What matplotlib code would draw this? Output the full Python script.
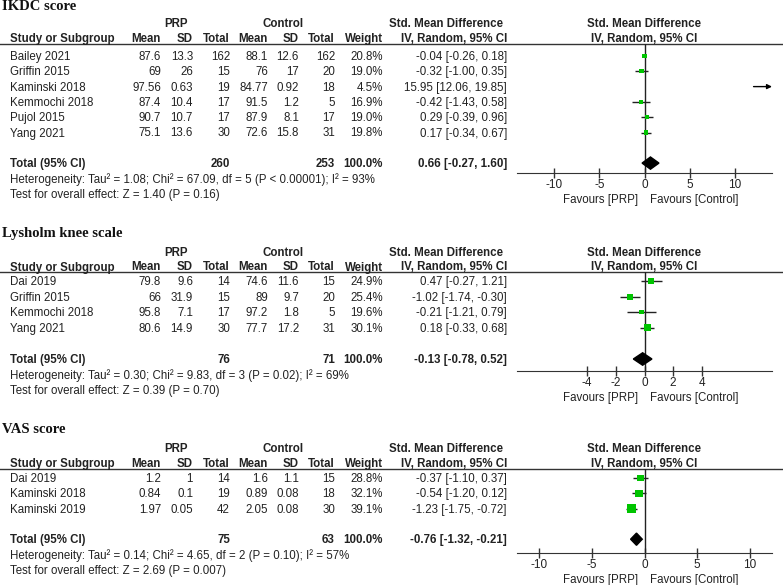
import matplotlib.pyplot as plt
from matplotlib.patches import Polygon

plt.rcParams['font.family'] = ['Liberation Sans', 'DejaVu Sans']

W, H = 783, 585
FS = 8.3
GREEN = '#00c400'

# ---- IKDC score ----
ikdc_studies = ['Bailey 2021', 'Griffin 2015', 'Kaminski 2018', 'Kemmochi 2018', 'Pujol 2015', 'Yang 2021']
ikdc_prp_mean = ['87.6', '69', '97.56', '87.4', '90.7', '75.1']
ikdc_prp_sd = ['13.3', '26', '0.63', '10.4', '10.7', '13.6']
ikdc_prp_n = [162, 15, 19, 17, 17, 30]
ikdc_ctl_mean = ['88.1', '76', '84.77', '91.5', '87.9', '72.6']
ikdc_ctl_sd = ['12.6', '17', '0.92', '1.2', '8.1', '15.8']
ikdc_ctl_n = [162, 20, 18, 5, 17, 31]
ikdc_weight = [20.8, 19.0, 4.5, 16.9, 19.0, 19.8]
ikdc_smd = [-0.04, -0.32, 15.95, -0.42, 0.29, 0.17]
ikdc_lo = [-0.26, -1.00, 12.06, -1.43, -0.39, -0.34]
ikdc_hi = [0.18, 0.35, 19.85, 0.58, 0.96, 0.67]
ikdc_total = (0.66, -0.27, 1.60)
ikdc_het = 'Heterogeneity: Tau² = 1.08; Chi² = 67.09, df = 5 (P < 0.00001); I² = 93%'
ikdc_test = 'Test for overall effect: Z = 1.40 (P = 0.16)'
ikdc_ticks = [-10, -5, 0, 5, 10]

# ---- Lysholm knee scale ----
lys_studies = ['Dai 2019', 'Griffin 2015', 'Kemmochi 2018', 'Yang 2021']
lys_prp_mean = ['79.8', '66', '95.8', '80.6']
lys_prp_sd = ['9.6', '31.9', '7.1', '14.9']
lys_prp_n = [14, 15, 17, 30]
lys_ctl_mean = ['74.6', '89', '97.2', '77.7']
lys_ctl_sd = ['11.6', '9.7', '1.8', '17.2']
lys_ctl_n = [15, 20, 5, 31]
lys_weight = [24.9, 25.4, 19.6, 30.1]
lys_smd = [0.47, -1.02, -0.21, 0.18]
lys_lo = [-0.27, -1.74, -1.21, -0.33]
lys_hi = [1.21, -0.30, 0.79, 0.68]
lys_total = (-0.13, -0.78, 0.52)
lys_het = 'Heterogeneity: Tau² = 0.30; Chi² = 9.83, df = 3 (P = 0.02); I² = 69%'
lys_test = 'Test for overall effect: Z = 0.39 (P = 0.70)'
lys_ticks = [-4, -2, 0, 2, 4]

# ---- VAS score ----
vas_studies = ['Dai 2019', 'Kaminski 2018', 'Kaminski 2019']
vas_prp_mean = ['1.2', '0.84', '1.97']
vas_prp_sd = ['1', '0.1', '0.05']
vas_prp_n = [14, 19, 42]
vas_ctl_mean = ['1.6', '0.89', '2.05']
vas_ctl_sd = ['1.1', '0.08', '0.08']
vas_ctl_n = [15, 18, 30]
vas_weight = [28.8, 32.1, 39.1]
vas_smd = [-0.37, -0.54, -1.23]
vas_lo = [-1.10, -1.20, -1.75]
vas_hi = [0.37, 0.12, -0.72]
vas_total = (-0.76, -1.32, -0.21)
vas_het = 'Heterogeneity: Tau² = 0.14; Chi² = 4.65, df = 2 (P = 0.10); I² = 57%'
vas_test = 'Test for overall effect: Z = 2.69 (P = 0.007)'
vas_ticks = [-10, -5, 0, 5, 10]

panels = [
    dict(title='IKDC score', studies=ikdc_studies,
         cols=[ikdc_prp_mean, ikdc_prp_sd, ikdc_prp_n, ikdc_ctl_mean, ikdc_ctl_sd, ikdc_ctl_n],
         weight=ikdc_weight, smd=ikdc_smd, lo=ikdc_lo, hi=ikdc_hi, total=ikdc_total,
         het=ikdc_het, test=ikdc_test, ticks=ikdc_ticks,
         title_y=9.5, line_y=43.5, row0=56, step=15.3, axis_y=173, xmax=14.1),
    dict(title='Lysholm knee scale', studies=lys_studies,
         cols=[lys_prp_mean, lys_prp_sd, lys_prp_n, lys_ctl_mean, lys_ctl_sd, lys_ctl_n],
         weight=lys_weight, smd=lys_smd, lo=lys_lo, hi=lys_hi, total=lys_total,
         het=lys_het, test=lys_test, ticks=lys_ticks,
         title_y=237, line_y=272, row0=281, step=15.6, axis_y=371, xmax=8.9),
    dict(title='VAS score', studies=vas_studies,
         cols=[vas_prp_mean, vas_prp_sd, vas_prp_n, vas_ctl_mean, vas_ctl_sd, vas_ctl_n],
         weight=vas_weight, smd=vas_smd, lo=vas_lo, hi=vas_hi, total=vas_total,
         het=vas_het, test=vas_test, ticks=vas_ticks,
         title_y=433, line_y=468.5, row0=478, step=15.3, axis_y=553, xmax=12.1),
]

# right edges of the numeric columns (pixels)
col_x = [161, 193, 230, 268, 299, 335]
weight_x = 383
ci_x = 507
plot_l, plot_r = 517, 772
plot_c = 644
BL = 4  # baseline offset below a row's centre (px)


def ci_text(est, lo, hi):
    return f'{est:.2f} [{lo:.2f}, {hi:.2f}]'


fig = plt.figure(figsize=(W / 100, H / 100), dpi=100)
tx = fig.add_axes([0, 0, 1, 1])
tx.set_xlim(0, W)
tx.set_ylim(H, 0)
tx.axis('off')

for p in panels:
    tx.text(2, p['title_y'], p['title'], family='Liberation Serif', weight='bold',
            fontsize=10.5, va='baseline', color='#111111')

    # column headers
    h1 = p['line_y'] - 16.5
    h2 = p['line_y'] - 1.5
    bold = dict(fontsize=FS, weight='bold', va='baseline', color='#222222')
    tx.text(176, h1, 'PRP', ha='center', **bold)
    tx.text(283, h1, 'Control', ha='center', **bold)
    tx.text(446, h1, 'Std. Mean Difference', ha='center', **bold)
    tx.text(plot_c, h1, 'Std. Mean Difference', ha='center', **bold)
    tx.text(10, h2, 'Study or Subgroup', ha='left', **bold)
    for x, lab in zip(col_x, ['Mean', 'SD', 'Total', 'Mean', 'SD', 'Total']):
        tx.text(x, h2, lab, ha='right', **bold)
    tx.text(weight_x, h2, 'Weight', ha='right', **bold)
    tx.text(ci_x, h2, 'IV, Random, 95% CI', ha='right', **bold)
    tx.text(plot_c, h2, 'IV, Random, 95% CI', ha='center', **bold)
    tx.plot([0, W], [p['line_y'], p['line_y']], color='#333333', lw=1)

    # study rows
    norm = dict(fontsize=FS, va='baseline', color='#222222')
    n = len(p['studies'])
    for i, name in enumerate(p['studies']):
        y = p['row0'] + i * p['step'] + BL
        tx.text(10, y, name, ha='left', **norm)
        for x, col in zip(col_x, p['cols']):
            tx.text(x, y, str(col[i]), ha='right', **norm)
        tx.text(weight_x, y, f"{p['weight'][i]:.1f}%", ha='right', **norm)
        tx.text(ci_x, y, ci_text(p['smd'][i], p['lo'][i], p['hi'][i]), ha='right', **norm)

    # total row
    yt = p['row0'] + (n + 1) * p['step'] + BL
    tx.text(10, yt, 'Total (95% CI)', ha='left', **bold)
    tx.text(col_x[2], yt, str(sum(p['cols'][2])), ha='right', **bold)
    tx.text(col_x[5], yt, str(sum(p['cols'][5])), ha='right', **bold)
    tx.text(weight_x, yt, '100.0%', ha='right', **bold)
    tx.text(ci_x, yt, ci_text(*p['total']), ha='right', **bold)
    tx.text(10, yt + 15.5, p['het'], ha='left', **norm)
    tx.text(10, yt + 31, p['test'], ha='left', **norm)

    # favours labels
    fy = p['axis_y'] + 25.5 + BL
    tx.text(plot_c - 6, fy, 'Favours [PRP]', ha='right', **norm)
    tx.text(plot_c + 6, fy, 'Favours [Control]', ha='left', **norm)

    # forest plot axes
    ax = fig.add_axes([plot_l / W, 1 - p['axis_y'] / H,
                       (plot_r - plot_l) / W, (p['axis_y'] - p['line_y']) / H])
    ax.patch.set_alpha(0)
    ax.set_xlim(-p['xmax'], p['xmax'])
    ytop = -(p['row0'] - p['line_y']) / p['step']
    ybot = (p['axis_y'] - p['row0']) / p['step']
    ax.set_ylim(ybot, ytop)
    for s in ['top', 'left', 'right']:
        ax.spines[s].set_visible(False)
    ax.spines['bottom'].set_color('#333333')
    ax.set_yticks([])
    ax.set_xticks(p['ticks'])
    ax.set_xticklabels([str(t) for t in p['ticks']], fontsize=8.5, color='#222222')
    ax.tick_params(axis='x', direction='inout', length=7, width=1, color='#333333', pad=1)
    ax.axvline(0, color='#222222', lw=1)

    rows = list(range(n))
    for i in rows:
        lo, hi = p['lo'][i], p['hi'][i]
        if hi > p['xmax']:
            ax.annotate('', xy=(p['xmax'], i), xytext=(lo, i),
                        arrowprops=dict(arrowstyle='-|>', color='black', lw=1,
                                        mutation_scale=7, shrinkA=0, shrinkB=0))
        else:
            ax.hlines(i, lo, hi, color='#222222', lw=1, zorder=2)
    # square side in px grows with study weight
    sizes = [(w * 0.23 * 0.72) ** 2 for w in p['weight']]
    ax.scatter(p['smd'], rows, marker='s', s=sizes, color=GREEN, zorder=3, linewidths=0)

    est, lo, hi = p['total']
    dh = 0.4
    ax.add_patch(Polygon([(lo, n + 1), (est, n + 1 - dh), (hi, n + 1), (est, n + 1 + dh)],
                         closed=True, color='black', zorder=3))

fig.savefig('out.png', dpi=100)
